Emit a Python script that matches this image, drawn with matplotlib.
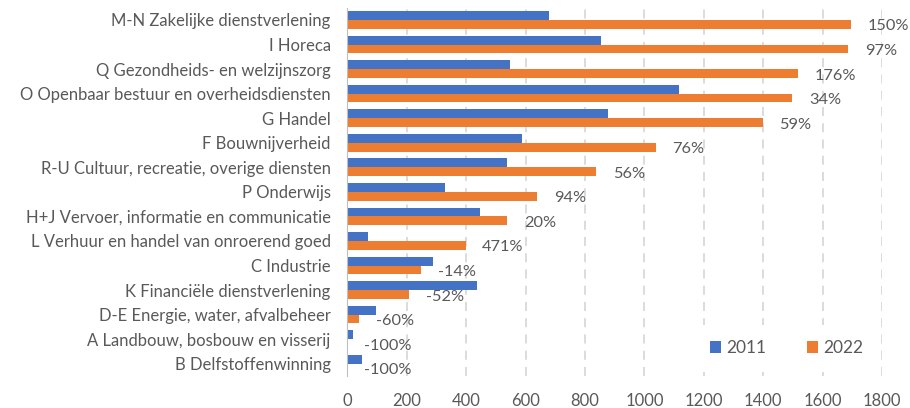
import numpy as np
import matplotlib
matplotlib.use("Agg")
import matplotlib.pyplot as plt

# sectoren, van boven naar beneden
sectoren = [
    "M-N Zakelijke dienstverlening",
    "I Horeca",
    "Q Gezondheids- en welzijnszorg",
    "O Openbaar bestuur en overheidsdiensten",
    "G Handel",
    "F Bouwnijverheid",
    "R-U Cultuur, recreatie, overige diensten",
    "P Onderwijs",
    "H+J Vervoer, informatie en communicatie",
    "L Verhuur en handel van onroerend goed",
    "C Industrie",
    "K Financiële dienstverlening",
    "D-E Energie, water, afvalbeheer",
    "A Landbouw, bosbouw en visserij",
    "B Delfstoffenwinning",
]
waarden_2011 = [678, 855, 547, 1117, 877, 588, 538, 329, 447, 70, 288, 437, 98, 18, 49]
waarden_2022 = [1697, 1687, 1517, 1498, 1398, 1038, 838, 639, 538, 398, 249, 208, 39, 0, 0]
groei = ["150%", "97%", "176%", "34%", "59%", "76%", "56%", "94%", "20%", "471%",
         "-14%", "-52%", "-60%", "-100%", "-100%"]
xticks = list(range(0, 2000, 200))

blauw = "#4472C4"
oranje = "#ED7D31"
grijs = "#595959"

plt.rcParams['font.family'] = ['Lato', 'DejaVu Sans']

fig = plt.figure(figsize=(9.1, 4.08), dpi=100)
ax = fig.add_axes([0.3817, 0.0784, 0.5876, 0.9027])

y = np.arange(len(sectoren))
h = 0.36
ax.barh(y - h/2, waarden_2011, height=h, color=blauw, label="2011", zorder=3)
ax.barh(y + h/2, waarden_2022, height=h, color=oranje, label="2022", zorder=3)

# percentages achter de oranje balken
for yi, v, t in zip(y, waarden_2022, groei):
    ax.annotate(t, (v, yi + h/2), xytext=(12, -1.5), textcoords="offset points",
                va="center", ha="left", fontsize=11.8, color=grijs, zorder=4)

ax.set_xlim(0, 1800)
ax.set_ylim(len(sectoren) - 0.5, -0.5)
ax.set_xticks(xticks)
ax.set_yticks(y)
ax.set_yticklabels(sectoren, fontsize=12)
ax.tick_params(axis="both", length=0, colors=grijs)
ax.tick_params(axis="x", labelsize=12)
ax.tick_params(axis="y", pad=12)
ax.tick_params(axis="x", pad=12)

ax.grid(axis="x", color="#d9d9d9", linestyle=(0, (5, 4)), linewidth=1.3, zorder=0)
for s in ["top", "right", "bottom"]:
    ax.spines[s].set_visible(False)
ax.spines["left"].set_color("#bfbfbf")
ax.spines["left"].set_zorder(5)

leg = ax.legend(loc="center right", bbox_to_anchor=(1.01, 0.075), ncol=2, frameon=True,
                fontsize=12.5, handlelength=0.65, handleheight=0.65, columnspacing=2.3,
                handletextpad=0.3, borderpad=0.9)
leg.get_frame().set_facecolor("white")
leg.get_frame().set_edgecolor("none")
leg.get_frame().set_alpha(1)
for t in leg.get_texts():
    t.set_color(grijs)

fig.savefig("out.png", dpi=100)
